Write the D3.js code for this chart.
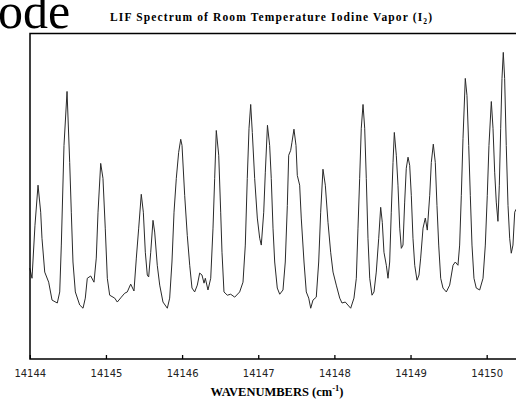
<!DOCTYPE html>
<html>
<head>
<meta charset="utf-8">
<script src="https://cdn.jsdelivr.net/npm/d3@7"></script>
<style>
  html, body { margin: 0; padding: 0; background: #fff; }
  svg { display: block; }
</style>
</head>
<body>
<svg id="chart" width="516" height="405"></svg>
<script>
// --- data (wavenumber in cm-1, intensity in arbitrary units 0-100) ---
const wavenumbers = [
  14144.000, 14144.029, 14144.068, 14144.108, 14144.143, 14144.160, 14144.196, 14144.248, 14144.292, 14144.361,
  14144.393, 14144.414, 14144.449, 14144.489, 14144.524, 14144.545, 14144.567, 14144.598, 14144.655, 14144.699,
  14144.729, 14144.755, 14144.800, 14144.843, 14144.873, 14144.896, 14144.931, 14144.961, 14144.991, 14145.018,
  14145.049, 14145.115, 14145.149, 14145.202, 14145.246, 14145.280, 14145.325, 14145.368, 14145.399, 14145.430,
  14145.464, 14145.491, 14145.517, 14145.543, 14145.561, 14145.588, 14145.618, 14145.640, 14145.674, 14145.706,
  14145.749, 14145.806, 14145.837, 14145.867, 14145.894, 14145.924, 14145.955, 14145.982, 14145.999, 14146.034,
  14146.068, 14146.100, 14146.130, 14146.165, 14146.200, 14146.231, 14146.261, 14146.288, 14146.305, 14146.340,
  14146.376, 14146.406, 14146.428, 14146.449, 14146.481, 14146.507, 14146.524, 14146.550, 14146.594, 14146.638,
  14146.691, 14146.756, 14146.800, 14146.830, 14146.856, 14146.879, 14146.901, 14146.922, 14146.953, 14146.988,
  14147.019, 14147.040, 14147.072, 14147.093, 14147.121, 14147.150, 14147.171, 14147.194, 14147.216, 14147.250,
  14147.282, 14147.325, 14147.355, 14147.382, 14147.400, 14147.426, 14147.443, 14147.469, 14147.496, 14147.513,
  14147.544, 14147.565, 14147.601, 14147.631, 14147.663, 14147.689, 14147.719, 14147.762, 14147.794, 14147.820,
  14147.850, 14147.881, 14147.916, 14147.951, 14147.982, 14148.025, 14148.070, 14148.100, 14148.143, 14148.214,
  14148.257, 14148.288, 14148.310, 14148.332, 14148.353, 14148.376, 14148.398, 14148.419, 14148.441, 14148.464,
  14148.494, 14148.520, 14148.550, 14148.582, 14148.608, 14148.629, 14148.651, 14148.682, 14148.704, 14148.726,
  14148.747, 14148.770, 14148.787, 14148.813, 14148.835, 14148.858, 14148.879, 14148.901, 14148.923, 14148.944,
  14148.967, 14148.989, 14149.010, 14149.032, 14149.055, 14149.085, 14149.111, 14149.133, 14149.164, 14149.194,
  14149.220, 14149.252, 14149.273, 14149.299, 14149.325, 14149.347, 14149.370, 14149.396, 14149.426, 14149.470,
  14149.514, 14149.558, 14149.588, 14149.623, 14149.645, 14149.667, 14149.689, 14149.719, 14149.741, 14149.764,
  14149.785, 14149.807, 14149.833, 14149.863, 14149.908, 14149.952, 14149.982, 14150.008, 14150.030, 14150.061,
  14150.083, 14150.105, 14150.126, 14150.148, 14150.166, 14150.184, 14150.201, 14150.218, 14150.236, 14150.257,
  14150.280, 14150.302, 14150.323, 14150.345, 14150.368, 14150.385
];
const intensities = [
  27.9, 24.8, 41.1, 53.4, 45.1, 37.1, 26.7, 23.6, 18.1, 17.2,
  20.6, 35.0, 65.6, 82.2, 60.4, 45.1, 29.8, 20.6, 16.6, 15.6,
  18.7, 24.8, 25.5, 23.6, 31.0, 45.1, 60.1, 55.5, 40.2, 24.8,
  19.6, 18.7, 17.5, 19.0, 20.2, 20.6, 23.0, 20.9, 31.0, 40.2,
  50.6, 45.1, 32.8, 25.8, 25.2, 32.8, 42.6, 39.0, 28.8, 22.7,
  17.5, 15.6, 18.7, 29.8, 45.1, 55.5, 63.5, 67.5, 65.6, 50.3,
  38.0, 28.8, 21.8, 20.6, 22.7, 26.4, 25.8, 23.3, 24.8, 21.2,
  24.8, 40.2, 55.5, 70.2, 62.6, 45.1, 32.8, 20.6, 19.6, 19.9,
  19.0, 20.6, 23.6, 35.0, 55.5, 70.9, 78.2, 69.6, 55.5, 43.3,
  37.1, 35.0, 45.1, 57.4, 71.8, 65.6, 55.5, 40.2, 29.8, 21.8,
  19.9, 21.2, 29.8, 47.2, 62.6, 64.1, 66.6, 70.6, 65.6, 56.4,
  53.4, 43.3, 29.8, 20.6, 18.7, 15.6, 18.1, 19.0, 29.8, 45.1,
  58.3, 53.4, 42.0, 32.8, 26.7, 22.7, 18.7, 17.2, 17.5, 15.6,
  18.7, 24.8, 40.2, 55.5, 70.9, 78.2, 70.9, 55.5, 37.1, 24.8,
  19.6, 20.6, 26.7, 37.1, 46.6, 42.0, 32.8, 28.8, 24.8, 29.8,
  45.1, 60.4, 69.6, 62.6, 53.4, 40.2, 34.0, 35.0, 48.2, 58.6,
  62.0, 59.5, 50.3, 37.1, 28.8, 24.2, 25.8, 31.0, 40.2, 43.3,
  39.6, 50.3, 60.4, 66.0, 60.4, 47.2, 35.0, 24.8, 21.8, 20.6,
  22.7, 28.8, 29.8, 28.8, 35.0, 50.3, 67.8, 86.2, 81.0, 65.6,
  50.3, 35.0, 24.8, 21.8, 21.2, 24.8, 35.0, 50.3, 65.6, 79.1,
  70.9, 57.4, 48.2, 42.3, 53.4, 70.9, 86.2, 94.2, 86.2, 65.6,
  47.2, 37.1, 32.5, 35.0, 45.1, 46.0
];
const tickValues = [14144, 14145, 14146, 14147, 14148, 14149, 14150];
const xDomain = [14144, 14150.385];
const yDomain = [0, 100];

const titleText = 'LIF Spectrum of Room Temperature Iodine Vapor (I';
const xLabelText = 'WAVENUMBERS (cm';

// --- layout ---
const plot = { left: 30, top: 33.5, right: 516, bottom: 359 };

const svg = d3.select('#chart');

const x = d3.scaleLinear().domain(xDomain).range([29.8, plot.right]);
const y = d3.scaleLinear().domain(yDomain).range([plot.bottom, plot.top]);

// slide fragment text at top-left (cut by the picture edge, as in the source)
svg.append('text')
  .attr('x', -2).attr('y', 28)
  .attr('font-family', '"Liberation Serif", "Times New Roman", serif')
  .attr('font-size', 50)
  .attr('fill', '#000')
  .text('ode');

// title
const title = svg.append('text')
  .attr('x', 110).attr('y', 21)
  .attr('font-family', '"Liberation Serif", "Times New Roman", serif')
  .attr('font-size', 11.5)
  .attr('font-weight', 'bold')
  .attr('textLength', 322)
  .attr('lengthAdjust', 'spacing')
  .attr('fill', '#000');
title.append('tspan').text(titleText);
title.append('tspan').attr('font-size', 7.5).attr('dy', 3).text('2');
title.append('tspan').attr('dy', -3).text(')');

// trace
const line = d3.line()
  .x(i => x(wavenumbers[i]))
  .y(i => y(intensities[i]));

svg.append('path')
  .datum(d3.range(wavenumbers.length))
  .attr('d', line)
  .attr('fill', 'none')
  .attr('stroke', '#2a2a2a')
  .attr('stroke-width', 1)
  .attr('stroke-linejoin', 'round');

// frame (right side runs off the picture)
svg.append('path')
  .attr('d', `M${plot.right + 5},${plot.top}H${plot.left}V${plot.bottom}H${plot.right + 5}`)
  .attr('fill', 'none')
  .attr('stroke', '#000')
  .attr('stroke-width', 1.5);

// x axis ticks pointing inward
const xAxis = d3.axisBottom(x)
  .tickValues(tickValues)
  .tickFormat(d3.format('d'))
  .tickSizeInner(-4)
  .tickSizeOuter(0)
  .tickPadding(11);

const gx = svg.append('g')
  .attr('transform', `translate(0,${plot.bottom})`)
  .call(xAxis);
gx.select('.domain').remove();
gx.selectAll('.tick line').attr('stroke', '#000').attr('stroke-width', 1.3);
gx.selectAll('.tick text')
  .attr('font-family', '"DejaVu Sans", Verdana, sans-serif')
  .attr('font-size', 10)
  .attr('fill', '#222');

// x axis title
const xLabel = svg.append('text')
  .attr('x', 277).attr('y', 396)
  .attr('text-anchor', 'middle')
  .attr('font-family', '"Liberation Serif", "Times New Roman", serif')
  .attr('font-size', 12.5)
  .attr('font-weight', 'bold')
  .attr('fill', '#000');
xLabel.append('tspan').text(xLabelText);
xLabel.append('tspan').attr('font-size', 8.5).attr('dy', -5).text('-1');
xLabel.append('tspan').attr('dy', 5).text(')');
</script>
</body>
</html>
